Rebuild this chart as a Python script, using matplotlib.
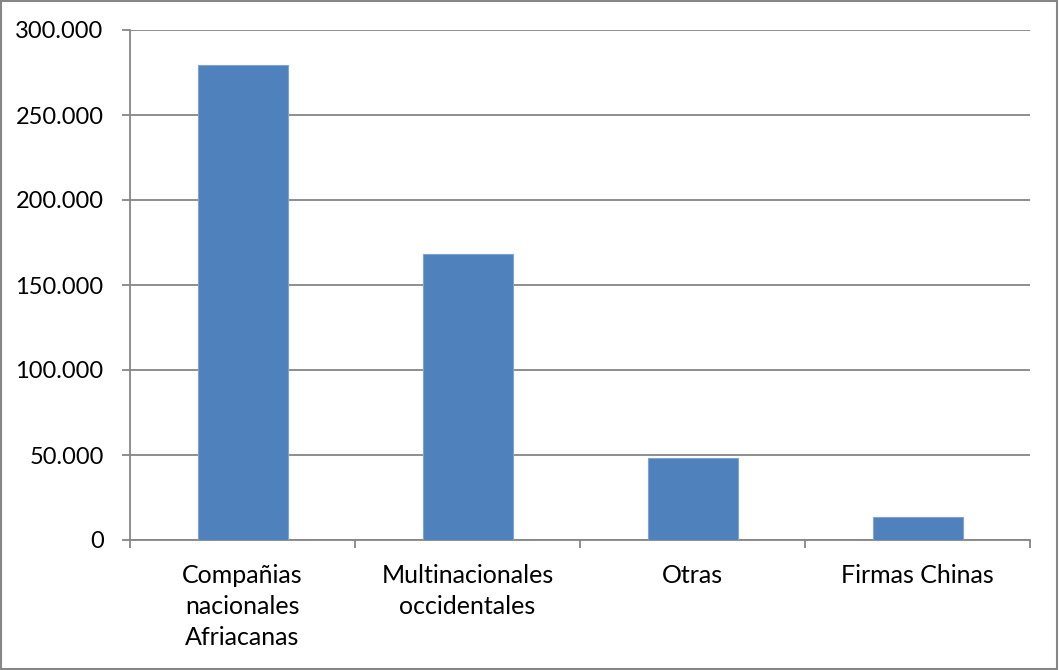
import numpy as np
import matplotlib.pyplot as plt
from matplotlib.ticker import FuncFormatter, FixedLocator

# Datos
categorias = ['Compañias\nnacionales\nAfriacanas', 'Multinacionales\noccidentales', 'Otras', 'Firmas Chinas']
valores = [279200, 168200, 48200, 13400]
y_ticks = [0, 50000, 100000, 150000, 200000, 250000, 300000]

plt.rcParams['font.family'] = ['Lato', 'DejaVu Sans']

fig = plt.figure(figsize=(10.59, 6.70), dpi=100)
ax = fig.add_axes([130 / 1059, 130 / 670, 900 / 1059, 510 / 670])

x = np.arange(len(categorias))
ax.bar(x, valores, width=0.4, color='#4F81BD', edgecolor='#7FA3D3', linewidth=0.8, zorder=3)

ax.set_xlim(-0.5, len(categorias) - 0.5)
ax.set_ylim(0, 300000)
ax.set_yticks(y_ticks)
ax.yaxis.set_major_formatter(FuncFormatter(lambda v, p: f'{int(v):,}'.replace(',', '.')))
ax.grid(axis='y', color='#868686', linewidth=1.3, zorder=0)

ax.set_xticks(x)
ax.set_xticklabels(categorias, fontsize=18, linespacing=1.42)
ax.xaxis.set_minor_locator(FixedLocator(np.arange(-0.5, len(categorias), 1.0)))
ax.tick_params(axis='x', which='major', length=0, pad=17)
ax.tick_params(axis='x', which='minor', length=6, width=1.3, color='#868686', direction='out')
ax.tick_params(axis='y', length=6, width=1.3, color='#868686', labelsize=17, pad=13)

for s in ['top', 'right']:
    ax.spines[s].set_visible(False)
for s in ['left', 'bottom']:
    ax.spines[s].set_color('#868686')
    ax.spines[s].set_linewidth(1.3)

# borde exterior del grafico
fig.patches.append(plt.Rectangle((0.001, 0.001), 0.997, 0.997, transform=fig.transFigure,
                                 fill=False, edgecolor='#868686', linewidth=1.5))

fig.savefig('out.png', dpi=100)
